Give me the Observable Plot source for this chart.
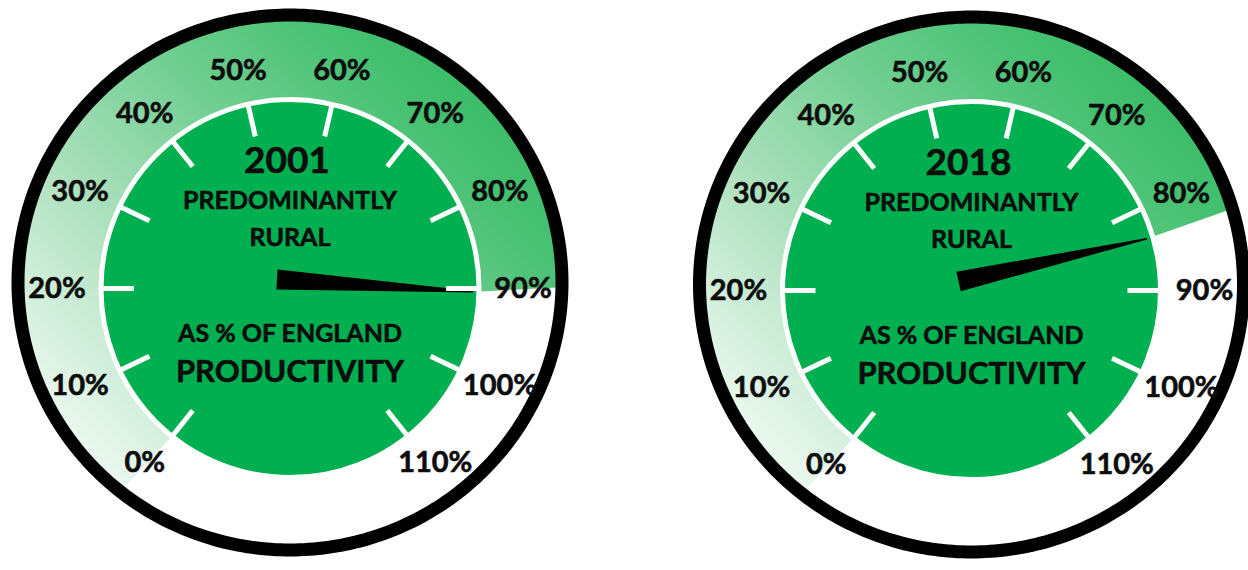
<!DOCTYPE html>
<html><head><meta charset="utf-8">
<script src="https://cdn.jsdelivr.net/npm/d3@7"></script>
<script src="https://cdn.jsdelivr.net/npm/@observablehq/plot@0.6"></script>
<style>html,body{margin:0;padding:0;background:#fff;overflow:hidden}</style>
</head><body><div id="chart"></div>
<script>
// ---------- data ----------
const gaugeYears = ["2001", "2018"];
const gaugeValues = [90.4, 83.6];           // % of England productivity
const scaleTicks = [0, 10, 20, 30, 40, 50, 60, 70, 80, 90, 100, 110];
const scaleTickLabels = ["0%", "10%", "20%", "30%", "40%", "50%", "60%", "70%", "80%", "90%", "100%", "110%"];
const headingLines = ["PREDOMINANTLY", "RURAL"];
const footLines = ["AS % OF ENGLAND", "PRODUCTIVITY"];

// ---------- layout ----------
const W = 1248, H = 570;
const centers = [[289.5, 288], [971, 290]];
const discR = 189;
const ringDy = -6, ringRx = 272, ringRy = 267.5, ringW = 13;
const labelRx = 233, labelRy = 223;
const tickR1 = 156, tickR2 = 188;
const ink = "#0d0d0d";

// value -> angle (radians, math convention); 20% at left, 90% at right
const theta = v => (180 - (v - 20) * 180 / 70) * Math.PI / 180;
const pt = (c, r, v) => ({x: c[0] + r * Math.cos(theta(v)), y: c[1] - r * Math.sin(theta(v))});
const ept = (c, rx, ry, dy, v) => ({x: c[0] + rx * Math.cos(theta(v)), y: c[1] + dy - ry * Math.sin(theta(v))});

const txt = {x: "x", y: "y", text: "t", fontWeight: "bold", fill: ink, stroke: ink, strokeWidth: 0.6, lineAnchor: "middle"};

const marks = [];
centers.forEach((c, i) => {
  const val = gaugeValues[i];
  // filled band from 0% to value
  const vs = d3.range(0, val, 0.25).concat([val]);
  const outer = vs.map(v => ept(c, ringRx, ringRy, ringDy, v));
  const inner = vs.map(v => pt(c, discR - 4, v)).reverse();
  marks.push(Plot.line(outer.concat(inner), {x: "x", y: "y", curve: "linear-closed", fill: `url(#band${i})`, stroke: "none"}));
  // black ring (slightly elliptical)
  const ring = d3.range(0, 360, 1).map(a => ({x: c[0] + ringRx * Math.cos(a * Math.PI / 180), y: c[1] + ringDy + ringRy * Math.sin(a * Math.PI / 180)}));
  marks.push(Plot.line(ring, {x: "x", y: "y", curve: "linear-closed", stroke: "black", strokeWidth: ringW, fill: "none"}));
  // inner disc
  marks.push(Plot.dot([{x: c[0], y: c[1]}], {x: "x", y: "y", r: discR, fill: "#00B050", stroke: "white", strokeWidth: 5}));
  // needle
  const tip = pt(c, 183, val);
  const base = {x: c[0] - 13, y: c[1] - 9};
  const dx = tip.x - base.x, dy = tip.y - base.y, L = Math.hypot(dx, dy);
  const nx = -dy / L, ny = dx / L;
  const needle = [
    {x: base.x + nx * 10, y: base.y + ny * 10},
    {x: tip.x + nx * 0.8, y: tip.y + ny * 0.8},
    {x: tip.x - nx * 0.8, y: tip.y - ny * 0.8},
    {x: base.x - nx * 10, y: base.y - ny * 10}
  ];
  marks.push(Plot.line(needle, {x: "x", y: "y", curve: "linear-closed", fill: "black", stroke: "none"}));
  // ticks
  const ticks = scaleTicks.map(v => ({a: pt(c, tickR1, v), b: pt(c, tickR2, v)}));
  marks.push(Plot.link(ticks, {x1: d => d.a.x, y1: d => d.a.y, x2: d => d.b.x, y2: d => d.b.y, stroke: "white", strokeWidth: 5}));
  // tick labels
  const labs = scaleTicks.map((v, k) => ({...ept(c, labelRx, labelRy, 0, v), t: scaleTickLabels[k]}));
  marks.push(Plot.text(labs, {...txt, fontSize: 29}));
  // centre texts
  marks.push(Plot.text([{x: c[0] - 3, y: c[1] - 127, t: gaugeYears[i]}], {...txt, fontSize: 37}));
  marks.push(Plot.text([
    {x: c[0], y: c[1] - 88, t: headingLines[0]},
    {x: c[0], y: c[1] - 51, t: headingLines[1]},
    {x: c[0], y: c[1] + 45, t: footLines[0]},
  ], {...txt, fontSize: 25}));
  marks.push(Plot.text([{x: c[0], y: c[1] + 84, t: footLines[1]}], {...txt, fontSize: 31}));
});

const svg = Plot.plot({
  width: W, height: H, margin: 0,
  x: {domain: [0, W], range: [0, W], axis: null},
  y: {domain: [0, H], range: [0, H], axis: null},
  style: {background: "white", fontFamily: "Lato, 'Open Sans', sans-serif", overflow: "visible"},
  marks
});
const defs = d3.select(svg).insert("defs", ":first-child");
const stops = [[0, "#eef9f1"], [0.15, "#d2efdc"], [0.35, "#a9dfbb"], [0.6, "#72cf93"], [0.85, "#47c172"], [1, "#36ba64"]];
centers.forEach((c, i) => {
  const g = defs.append("linearGradient").attr("id", `band${i}`).attr("gradientUnits", "userSpaceOnUse")
    .attr("x1", c[0] - 180).attr("y1", c[1] + 200).attr("x2", c[0] + 220).attr("y2", c[1] - 200);
  stops.forEach(([o, col]) => g.append("stop").attr("offset", o).attr("stop-color", col));
});
document.getElementById("chart").appendChild(svg);
</script>
</body></html>
